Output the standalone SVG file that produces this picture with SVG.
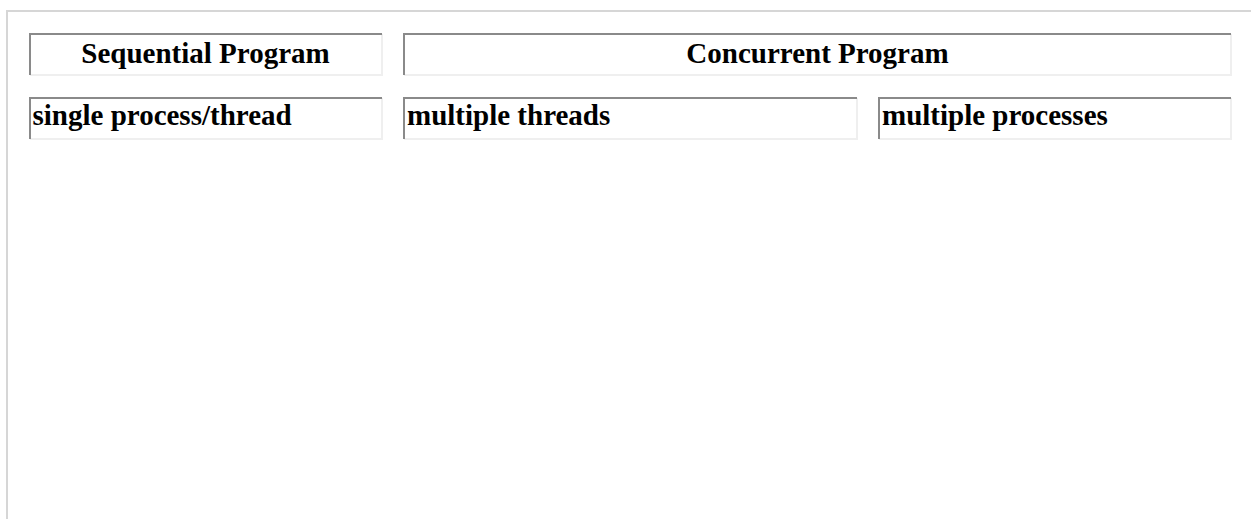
<svg xmlns="http://www.w3.org/2000/svg" width="1251" height="519" viewBox="0 0 1251 519">
  <style>
    .cell-dark { fill: none; stroke: #8a8a8a; stroke-width: 2; }
    .cell-light { fill: none; stroke: #efefef; stroke-width: 2; }
    .label { font-family: "Liberation Serif", "Times New Roman", serif; font-weight: bold; font-size: 29px; fill: #000; }
    .center { text-anchor: middle; }
  </style>
  <rect width="1251" height="519" fill="#ffffff"/>
  <!-- outer table frame -->
  <g id="frame">
    <path d="M7 519 V11 H1251" fill="none" stroke="#d6d6d6" stroke-width="2"/>
  </g>
  <g id="sequential">
    <path class="cell-light" d="M382 34 V75 H30"/>
    <path class="cell-dark" d="M30 75 V34 H382"/>
    <text class="label center" x="205.5" y="62.5">Sequential Program</text>
  </g>
  <g id="concurrent">
    <path class="cell-light" d="M1231 34 V75 H404"/>
    <path class="cell-dark" d="M404 75 V34 H1231"/>
    <text class="label center" x="817.5" y="62.5">Concurrent Program</text>
  </g>
  <g id="single">
    <path class="cell-light" d="M382 98 V139 H30"/>
    <path class="cell-dark" d="M30 139 V98 H382"/>
    <text class="label" x="32.5" y="125">single process/thread</text>
  </g>
  <g id="threads">
    <path class="cell-light" d="M857 98 V139 H404"/>
    <path class="cell-dark" d="M404 139 V98 H857"/>
    <text class="label" x="407" y="125">multiple threads</text>
  </g>
  <g id="processes">
    <path class="cell-light" d="M1231 98 V139 H879"/>
    <path class="cell-dark" d="M879 139 V98 H1231"/>
    <text class="label" x="882" y="125">multiple processes</text>
  </g>
  <g id="connectors"/>
</svg>
